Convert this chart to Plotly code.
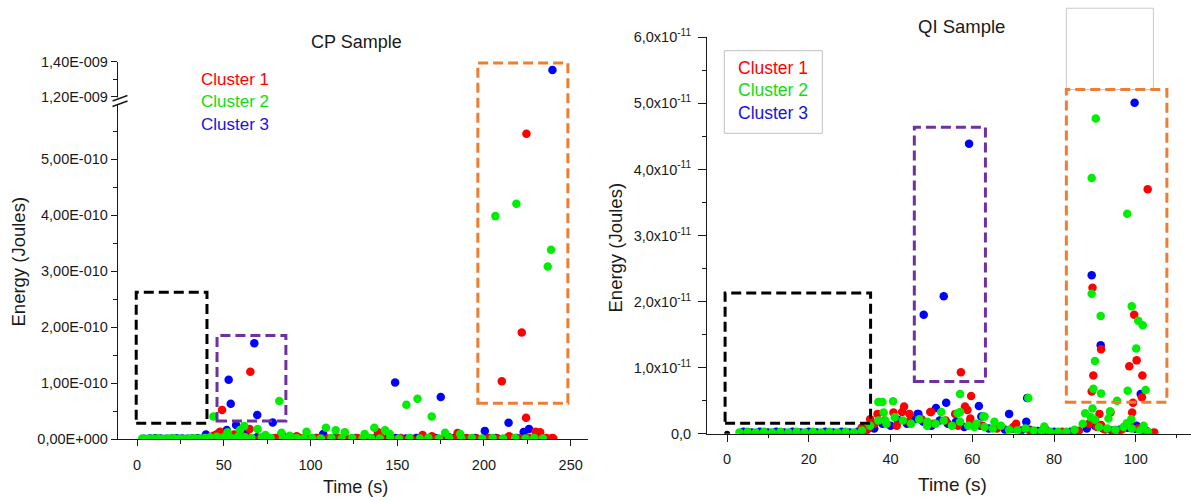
import plotly.graph_objects as go

FONT = "Liberation Sans, Arial, Helvetica, sans-serif"
RED, GREEN, BLUE = "#FF0000", "#00EE00", "#0000FF"
W, H = 1191, 500

# ---------------- CP sample (time s, energy pJ) ----------------
CP_C1_T = [224.5, 221.8, 210.3, 65.3, 49.0, 224.3, 229.8, 232.4, 239.4, 138.9,
           184.8, 164.6, 170.0, 180.0, 214.5, 64.9, 47.8, 46.7, 83.3, 92.0,
           56.0, 60.5, 44.0, 51.5,
           40, 44, 47, 51, 56, 60, 63, 71, 75, 80,
           86, 89, 94, 99, 104, 110, 116, 121, 127, 133,
           141, 147, 152, 158, 164, 171, 178, 184, 190, 196,
           203, 208, 216, 221, 226, 231, 236, 240]
CP_C1_E = [545, 190, 103, 120, 52, 38, 13, 12, 2, 12,
           10.5, 7, 5, 3, 5, 18, 13, 10, 9, 5,
           8, 6, 6, 9,
           1, 2, 3, 2, 1, 2, 3, 2, 1, 2,
           3, 1, 2, 1, 2, 1, 2, 1, 2, 1,
           2, 1, 2, 1, 2, 1, 2, 1, 2, 1,
           2, 1, 2, 1, 2, 1, 2, 1]

CP_C2_T = [218.7, 206.6, 238.7, 236.8, 82.0, 161.7, 155.3, 169.9, 44.0, 61.8,
           59.3, 69.5, 83.3, 108.9, 97.7, 114.5, 119.8, 136.8, 143.0, 145.7,
           131.2, 177.6, 186.3, 52.2, 74.0, 88.0,
           3, 6, 9, 12, 15, 18, 21, 24, 27, 30,
           33, 36, 39, 42, 46, 50, 54, 58, 62, 66,
           72, 77, 84, 88, 92, 96, 101, 106, 112, 118,
           124, 130, 135, 140, 146, 151, 157, 163, 168, 174,
           180, 187, 193, 199, 205, 211, 218, 224, 229, 234]
CP_C2_E = [420, 398, 338, 308, 68, 72, 61, 40, 40, 23,
           16, 18, 11, 20, 13, 15.5, 12, 20, 15.5, 9,
           9, 11, 9, 12, 7, 6,
           1, 0.5, 1, 1.5, 0.5, 1, 1.5, 1, 0.5, 1,
           1.5, 1, 2, 3, 4, 3, 2, 4, 3, 2,
           3, 2, 1, 3, 2, 1, 2, 1, 2, 1,
           2, 1, 2, 1, 2, 1, 2, 1, 2, 1,
           2, 1, 2, 1, 2, 1, 2, 1, 2, 1]

CP_C3_T = [239.5, 67.6, 52.8, 54.0, 69.3, 57.1, 78.2, 148.8, 175.1, 214.2,
           226.0, 222.9, 200.5, 107.3, 39.7, 51.7, 45.5, 62.5,
           4, 7.5, 10.5, 13.5, 17, 20, 23, 26, 29, 32,
           35, 38, 41, 45, 49, 53, 57, 61, 65, 69,
           74, 79, 83, 87, 91, 97, 103, 108, 114, 120,
           126, 131, 137, 144, 149, 155, 161, 166, 172, 177,
           183, 189, 195, 201, 207, 213, 219, 225, 232]
CP_C3_E = [1353, 171, 106, 63, 43, 25, 29.5, 101, 75, 29,
           18, 12.5, 14.5, 9, 8, 16, 7, 9,
           0.5, 1, 1.5, 1, 0.5, 1, 1.5, 1, 0.5, 1,
           1.5, 1, 2, 3, 4, 3, 4, 3, 2, 3,
           2, 1, 2, 1, 2, 1, 2, 1, 2, 1,
           2, 1, 2, 1, 2, 1, 2, 1, 2, 1,
           2, 1, 2, 1, 2, 1, 2, 1, 2]

# ---------------- QI sample (time s, energy pJ) ----------------
QI_C1_T = [102.9, 57.2, 89.4, 91.5, 89.6, 89.2, 99.6, 100.2, 98.4, 101.6,
           101.5, 99.3, 99.1, 91.1, 93.8, 91.5, 104.2, 59.7, 58.2, 58.8,
           55.8, 59.5, 70.7, 49.9, 43.3, 40.7, 36.8, 35.0, 32.9, 34.6,
           42.8, 44.6, 49.7,
           33.5, 36, 38.5, 41.5, 44.5, 47.5, 50.5, 53.5, 56.5, 59.5,
           62.5, 66, 70, 74, 78, 82, 86, 88.5, 90.5, 92.5,
           94.5, 96.5, 98.5, 100.5, 102.5, 104.5]
QI_C1_E = [37.0, 9.3, 22.1, 12.8, 8.8, 6.4, 18.0, 11.1, 10.2, 8.8,
           5.5, 4.7, 3.2, 3.0, 3.2, 1.3, 0.1, 5.7, 4.1, 3.6,
           3.0, 2.3, 1.5, 3.3, 4.1, 3.2, 3.0, 2.2, 0.9, 0.8,
           3.3, 3.0, 3.3,
           0.6, 1.5, 2, 1.2, 1.8, 2.2, 1.5, 2, 1.2, 1.8,
           1.2, 0.8, 1, 0.5, 0.6, 0.3, 0.4, 1.5, 1, 0.6,
           0.4, 0.6, 1.2, 0.8, 0.5, 0.2]

QI_C2_T = [90.2, 89.2, 97.9, 89.2, 91.4, 90.0, 89.6, 91.5, 99.0, 100.6,
           101.7, 100.1, 98.0, 102.4, 95.4, 98.9, 101.9, 97.8, 87.6, 89.4,
           93.7, 93.3, 90.0, 73.7, 57.0, 52.4, 57.0, 56.4, 62.7, 40.6,
           38.0, 37.0, 38.3, 38.7, 48.9, 63.0, 65.4, 77.6, 60.5,
           3, 5, 7, 9, 11, 13, 15, 17, 19, 21,
           23, 25, 27, 29, 31, 33, 35, 37, 39, 41,
           43, 45, 47, 49, 51, 53, 55, 57, 59, 61,
           63, 65, 67, 69, 71, 73, 75, 77, 79, 81,
           83, 85, 87, 89, 91, 93, 95, 97, 99, 101,
           103]
QI_C2_E = [47.7, 38.7, 33.3, 21.2, 17.8, 11.0, 6.8, 6.1, 19.3, 17.1,
           16.4, 12.9, 6.5, 6.6, 5.0, 2.2, 1.2, 1.6, 3.1, 3.8,
           3.4, 2.3, 2.1, 5.4, 6.0, 3.3, 3.3, 3.1, 2.6, 4.9,
           4.8, 4.8, 3.2, 2.0, 1.2, 2.6, 1.8, 1.1, 1.0,
           0.2, 0.3, 0.2, 0.3, 0.2, 0.3, 0.2, 0.3, 0.2, 0.3,
           0.2, 0.3, 0.2, 0.3, 0.2, 0.5, 1.2, 2, 1.5, 2.5,
           2, 1.5, 2.2, 1.8, 1.5, 2, 1.2, 1.8, 1.2, 1.5,
           1, 0.8, 1.2, 0.6, 0.5, 0.8, 0.5, 0.4, 0.3, 0.3,
           0.3, 0.6, 1.5, 2.5, 1, 0.8, 0.6, 1, 0.8, 0.5,
           0.3]

QI_C3_T = [99.7, 59.2, 53.0, 48.1, 89.2, 91.4, 101.2, 100.2, 97.2, 73.4,
           61.6, 62.2, 53.6, 46.6, 47.6, 69.0, 73.2, 41.7, 46.8, 51.1,
           4, 6, 8, 10, 12, 14, 16, 18, 20, 22,
           24, 26, 28, 30, 32, 34, 36, 38, 40, 42,
           44, 46, 48, 50, 52, 54, 56, 58, 60, 62,
           64, 66, 68, 70, 72, 74, 76, 78, 80, 82,
           84, 86, 88, 90, 92, 94, 96, 98, 100, 102]
QI_C3_E = [50.1, 43.9, 20.8, 18.0, 24.0, 13.4, 6.0, 1.2, 1.0, 5.4,
           4.2, 2.6, 4.7, 3.0, 2.1, 3.0, 1.8, 2.1, 3.0, 3.9,
           0.3, 0.2, 0.3, 0.2, 0.3, 0.2, 0.3, 0.2, 0.3, 0.2,
           0.3, 0.2, 0.3, 0.2, 0.3, 0.4, 0.8, 1.5, 1.2, 2,
           1.5, 2.2, 1.8, 1.2, 2, 1.5, 1.8, 1, 1.4, 1.2,
           0.8, 1, 0.6, 0.8, 0.5, 0.6, 0.4, 0.3, 0.3, 0.2,
           0.3, 0.4, 0.8, 1.2, 0.8, 0.5, 0.6, 0.9, 0.7, 0.4]

QI_ORIGIN_T = [0]
QI_ORIGIN_E = [0]

# ---------------- axes / ticks ----------------
CP_XTICKS = [0, 50, 100, 150, 200, 250]
CP_XMINOR = [25, 75, 125, 175, 225]
CP_YTICKS = [0, 1e-10, 2e-10, 3e-10, 4e-10, 5e-10]
CP_YTEXT = ["0,00E+000", "1,00E-010", "2,00E-010", "3,00E-010", "4,00E-010", "5,00E-010"]
CP_YMINOR = [0.5e-10, 1.5e-10, 2.5e-10, 3.5e-10, 4.5e-10, 5.5e-10]
CP_Y2TICKS = [1.2e-9, 1.4e-9]
CP_Y2TEXT = ["1,20E-009", "1,40E-009"]
CP_Y2MINOR = [1.3e-9]
CP_BREAK = 6e-10

QI_XTICKS = [0, 20, 40, 60, 80, 100]
QI_XMINOR = [10, 30, 50, 70, 90, 110]
QI_YTICKS = [0, 1e-11, 2e-11, 3e-11, 4e-11, 5e-11, 6e-11]
QI_YTEXT = ["0,0", "1,0x10<sup>-11</sup>", "2,0x10<sup>-11</sup>", "3,0x10<sup>-11</sup>",
            "4,0x10<sup>-11</sup>", "5,0x10<sup>-11</sup>", "6,0x10<sup>-11</sup>"]
QI_YMINOR = [0.5e-11, 1.5e-11, 2.5e-11, 3.5e-11, 4.5e-11, 5.5e-11]

for a, b in [(CP_C1_T, CP_C1_E), (CP_C2_T, CP_C2_E), (CP_C3_T, CP_C3_E),
             (QI_C1_T, QI_C1_E), (QI_C2_T, QI_C2_E), (QI_C3_T, QI_C3_E)]:
    assert len(a) == len(b), (len(a), len(b))

PJ = 1e-12

# layout geometry (pixels -> paper)
def pxx(p):
    return p / W

def pxy(p):
    return 1 - p / H

X1_DOM = [pxx(118), pxx(588)]
Y1_DOM = [pxy(439), pxy(103)]
Y2_DOM = [pxy(98), pxy(61.7)]
X2_DOM = [pxx(706.7), 1.0]
Y3_DOM = [pxy(433.7), pxy(37.3)]
X1_RANGE = [-11, 260]
Y1_RANGE = [0, 6e-10]
Y2_RANGE = [1.1926e-9, 1.4e-9]
X2_RANGE = [-5, 113.5]
Y3_RANGE = [0, 6e-11]


def to_paper(v, rng, dom):
    return dom[0] + (v - rng[0]) / (rng[1] - rng[0]) * (dom[1] - dom[0])


fig = go.Figure()

MS = 8.5
order = [(CP_C3_T, CP_C3_E, BLUE), (CP_C1_T, CP_C1_E, RED), (CP_C2_T, CP_C2_E, GREEN)]
for t, e, c in order:
    lo_t = [ti for ti, ei in zip(t, e) if ei * PJ <= CP_BREAK]
    lo_e = [ei * PJ for ei in e if ei * PJ <= CP_BREAK]
    hi_t = [ti for ti, ei in zip(t, e) if ei * PJ > CP_BREAK]
    hi_e = [ei * PJ for ei in e if ei * PJ > CP_BREAK]
    fig.add_trace(go.Scatter(x=lo_t, y=lo_e, mode="markers", xaxis="x", yaxis="y",
                             marker=dict(color=c, size=MS, line=dict(width=0)),
                             showlegend=False, hoverinfo="skip"))
    if hi_t:
        fig.add_trace(go.Scatter(x=hi_t, y=hi_e, mode="markers", xaxis="x", yaxis="y2",
                                 marker=dict(color=c, size=MS, line=dict(width=0)),
                                 showlegend=False, hoverinfo="skip"))

fig.add_trace(go.Scatter(x=QI_ORIGIN_T, y=QI_ORIGIN_E, mode="markers", xaxis="x2", yaxis="y3",
                         marker=dict(color="black", size=6), showlegend=False,
                         hoverinfo="skip"))
order = [(QI_C3_T, QI_C3_E, BLUE), (QI_C1_T, QI_C1_E, RED), (QI_C2_T, QI_C2_E, GREEN)]
for t, e, c in order:
    fig.add_trace(go.Scatter(x=t, y=[ei * PJ for ei in e], mode="markers",
                             xaxis="x2", yaxis="y3",
                             marker=dict(color=c, size=MS, line=dict(width=0)),
                             showlegend=False, hoverinfo="skip"))

TICKFONT = dict(family=FONT, size=14.5, color="#1a1a1a")
common = dict(showline=True, linecolor="#1a1a1a", linewidth=1.4, showgrid=False,
              zeroline=False, ticks="outside", tickcolor="#1a1a1a", tickwidth=1.3,
              tickfont=TICKFONT, tickmode="array", automargin=False)


def minor(vals, ln):
    return dict(tickvals=vals, ticks="outside", ticklen=ln, tickcolor="#1a1a1a",
                tickwidth=1.2, showgrid=False)


fig.update_layout(
    template="none",
    width=W, height=H, margin=dict(l=0, r=0, t=0, b=0, pad=0, autoexpand=False),
    autosize=False,
    paper_bgcolor="white", plot_bgcolor="white",
    xaxis=dict(domain=X1_DOM, range=X1_RANGE, anchor="y", tickvals=CP_XTICKS,
               ticklen=6, minor=minor(CP_XMINOR, 3.5), ticklabelstandoff=6, **common),
    yaxis=dict(domain=Y1_DOM, range=Y1_RANGE, anchor="x", tickvals=CP_YTICKS,
               ticktext=CP_YTEXT, ticklen=6, minor=minor(CP_YMINOR, 3.5), **common),
    yaxis2=dict(domain=Y2_DOM, range=Y2_RANGE, anchor="x", tickvals=CP_Y2TICKS,
                ticktext=CP_Y2TEXT, ticklen=6, minor=minor(CP_Y2MINOR, 3.5), **common),
    xaxis2=dict(domain=X2_DOM, range=X2_RANGE, anchor="y3", tickvals=QI_XTICKS,
                ticklen=7, minor=minor(QI_XMINOR, 3.5), ticklabelstandoff=5, **common),
    yaxis3=dict(domain=Y3_DOM, range=Y3_RANGE, anchor="x2", tickvals=QI_YTICKS,
                ticktext=QI_YTEXT, ticklen=7.5, minor=minor(QI_YMINOR, 3.5),
                ticklabelstandoff=4, **common),
)

# ---------------- highlight boxes ----------------
def dashed(color):
    return dict(color=color, width=3, dash="10px,5px")

BLACK, PURPLE, ORANGE = "#000000", "#7030A0", "#ED7D31"
shapes = [
    dict(type="rect", xref="x", yref="y", x0=-0.5, x1=40.3, y0=28 * PJ, y1=262 * PJ,
         line=dashed(BLACK)),
    dict(type="rect", xref="x", yref="y", x0=46.1, x1=85.8, y0=32 * PJ, y1=185 * PJ,
         line=dashed(PURPLE)),
    dict(type="rect", xref="x", yref="paper", x0=196.5, x1=248.4,
         y0=to_paper(64 * PJ, Y1_RANGE, Y1_DOM), y1=to_paper(1393 * PJ, Y2_RANGE, Y2_DOM),
         line=dashed(ORANGE)),
    dict(type="rect", xref="x2", yref="y3", x0=-0.5, x1=35.1, y0=1.6 * PJ, y1=21.3 * PJ,
         line=dashed(BLACK)),
    dict(type="rect", xref="x2", yref="y3", x0=45.8, x1=63.2, y0=7.9 * PJ, y1=46.4 * PJ,
         line=dashed(PURPLE)),
    dict(type="rect", xref="x2", yref="y3", x0=83.0, x1=107.6, y0=4.75 * PJ, y1=52.1 * PJ,
         line=dashed(ORANGE)),
    dict(type="rect", xref="x2", yref="paper", x0=83.0, x1=104.3,
         y0=to_paper(52.1 * PJ, Y3_RANGE, Y3_DOM), y1=to_paper(64.4 * PJ, Y3_RANGE, Y3_DOM),
         line=dict(color="#c8c8c8", width=1), layer="below"),
    # legend frame of the QI chart
    dict(type="rect", xref="paper", yref="paper", x0=pxx(724.3), x1=pxx(822.3),
         y0=pxy(133.3), y1=pxy(50.7), line=dict(color="#c0c0c0", width=1)),
    # axis break marks
    dict(type="rect", xref="paper", yref="paper", x0=pxx(112), x1=pxx(126),
         y0=pxy(104), y1=pxy(97.5), line=dict(width=0), fillcolor="white"),
    dict(type="line", xref="paper", yref="paper", x0=pxx(112.5), y0=pxy(101),
         x1=pxx(127.5), y1=pxy(95.5), line=dict(color="#1a1a1a", width=1.4)),
    dict(type="line", xref="paper", yref="paper", x0=pxx(112.5), y0=pxy(106.5),
         x1=pxx(127.5), y1=pxy(101), line=dict(color="#1a1a1a", width=1.4)),
]
fig.update_layout(shapes=shapes)

# ---------------- text ----------------
def txt(s, x, y, size, color="#1a1a1a", angle=0):
    return dict(text=s, x=pxx(x), y=pxy(y), xref="paper", yref="paper",
                showarrow=False, xanchor="center", yanchor="middle", textangle=angle,
                font=dict(family=FONT, size=size, color=color))

ann = [
    txt("CP Sample", 356, 41.7, 18),
    txt("QI Sample", 961.7, 26.7, 18.5),
    txt("Time (s)", 355, 487.3, 18),
    txt("Time (s)", 952, 484.3, 19),
    txt("Energy (Joules)", 17.5, 262, 18.5, angle=-90),
    txt("Energy (Joules)", 615, 247.5, 18.5, angle=-90),
    txt("Cluster 1", 234.7, 79.5, 17, RED),
    txt("Cluster 2", 234.7, 101.5, 17, "#11DD11"),
    txt("Cluster 3", 234.7, 124.3, 17, "#1515DD"),
    txt("Cluster 1", 772.5, 67.7, 17.5, RED),
    txt("Cluster 2", 772.5, 90, 17.5, "#11DD11"),
    txt("Cluster 3", 772.5, 113.3, 17.5, "#1515DD"),
]
fig.update_layout(annotations=ann)

fig.write_html("out.html", config={"displayModeBar": False},
               post_script="document.body.style.margin='0';")
